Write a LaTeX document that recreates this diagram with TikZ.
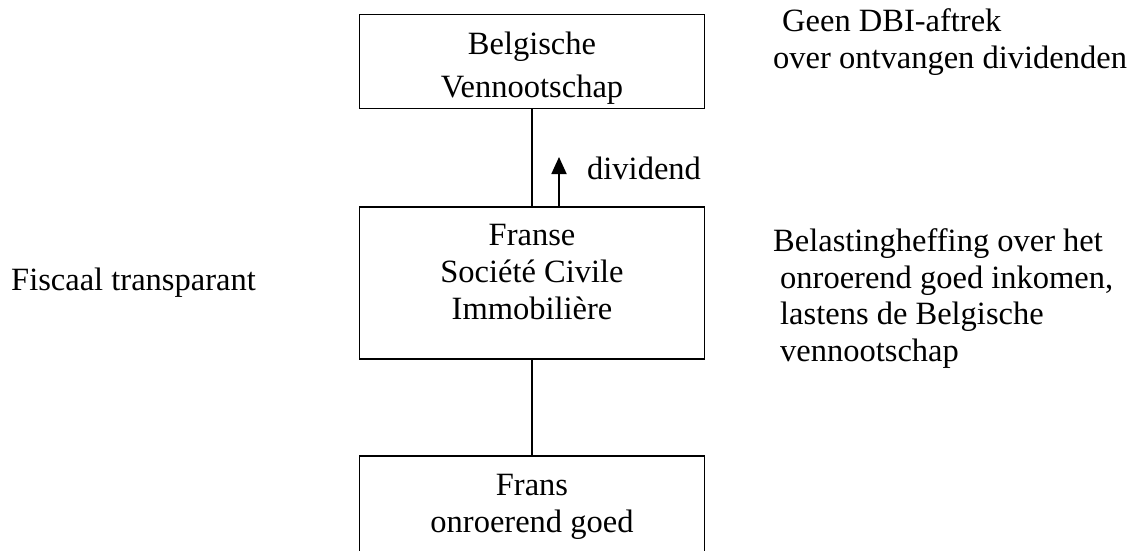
\documentclass[tikz,border=0pt]{standalone}
\usepackage{fontspec}
\setmainfont{Liberation Serif}
\usetikzlibrary{arrows.meta}
\begin{document}
\begin{tikzpicture}[x=1pt,y=-1pt,
  box/.style={draw,line width=1.6pt,minimum width=345pt,inner sep=0pt},
  link/.style={draw,line width=1.6pt},
  txt/.style={anchor=base,inner sep=0pt,font=\fontsize{32.5}{37}\selectfont},
  ltxt/.style={txt,anchor=base west}]
\useasboundingbox (0,0) rectangle (1137,550);
\clip (0,0) rectangle (1137,550);
\fill[white] (0,0) rectangle (1137,550);

% boxes
\node[box,minimum height=94pt]  (bv)  at (532,61.5) {};
\node[box,minimum height=152pt] (sci) at (532,283)  {};
\node[box,minimum height=140pt] (fog) at (532,526)  {};

% connectors
\path[link] (bv.south) -- (sci.north);
\path[link] (sci.south) -- (fog.north);

% dividend flow
\coordinate (divfoot) at (559,207);
\coordinate (divtip)  at (559,157);
\draw[line width=1.8pt,-{Triangle[length=17pt,width=15pt]}] (divfoot) -- (divtip);
\node[ltxt] (divlbl) at (587,179) {dividend};

% box texts
\node[txt] (bv1) at (532,54) {Belgische};
\node[txt] (bv2) at (532,97) {Vennootschap};
\node[txt] (sci1) at (532,245.7) {Franse};
\node[txt] (sci2) at (532,282.7) {Société Civile};
\node[txt] (sci3) at (532,319.7) {Immobilière};
\node[txt] (fog1) at (532,495) {Frans};
\node[txt] (fog2) at (532,532) {onroerend goed};

% side notes
\node[ltxt] (n1a) at (782,31.7) {Geen DBI-aftrek};
\node[ltxt] (n1b) at (773,68.4) {over ontvangen dividenden};
\node[ltxt] (n2)  at (11,290.5) {Fiscaal transparant};
\node[ltxt] (n3a) at (773,251.5) {Belastingheffing over het};
\node[ltxt] (n3b) at (780,288.2) {onroerend goed inkomen,};
\node[ltxt] (n3c) at (780,324.9) {lastens de Belgische};
\node[ltxt] (n3d) at (780,361.6) {vennootschap};
\end{tikzpicture}
\end{document}
